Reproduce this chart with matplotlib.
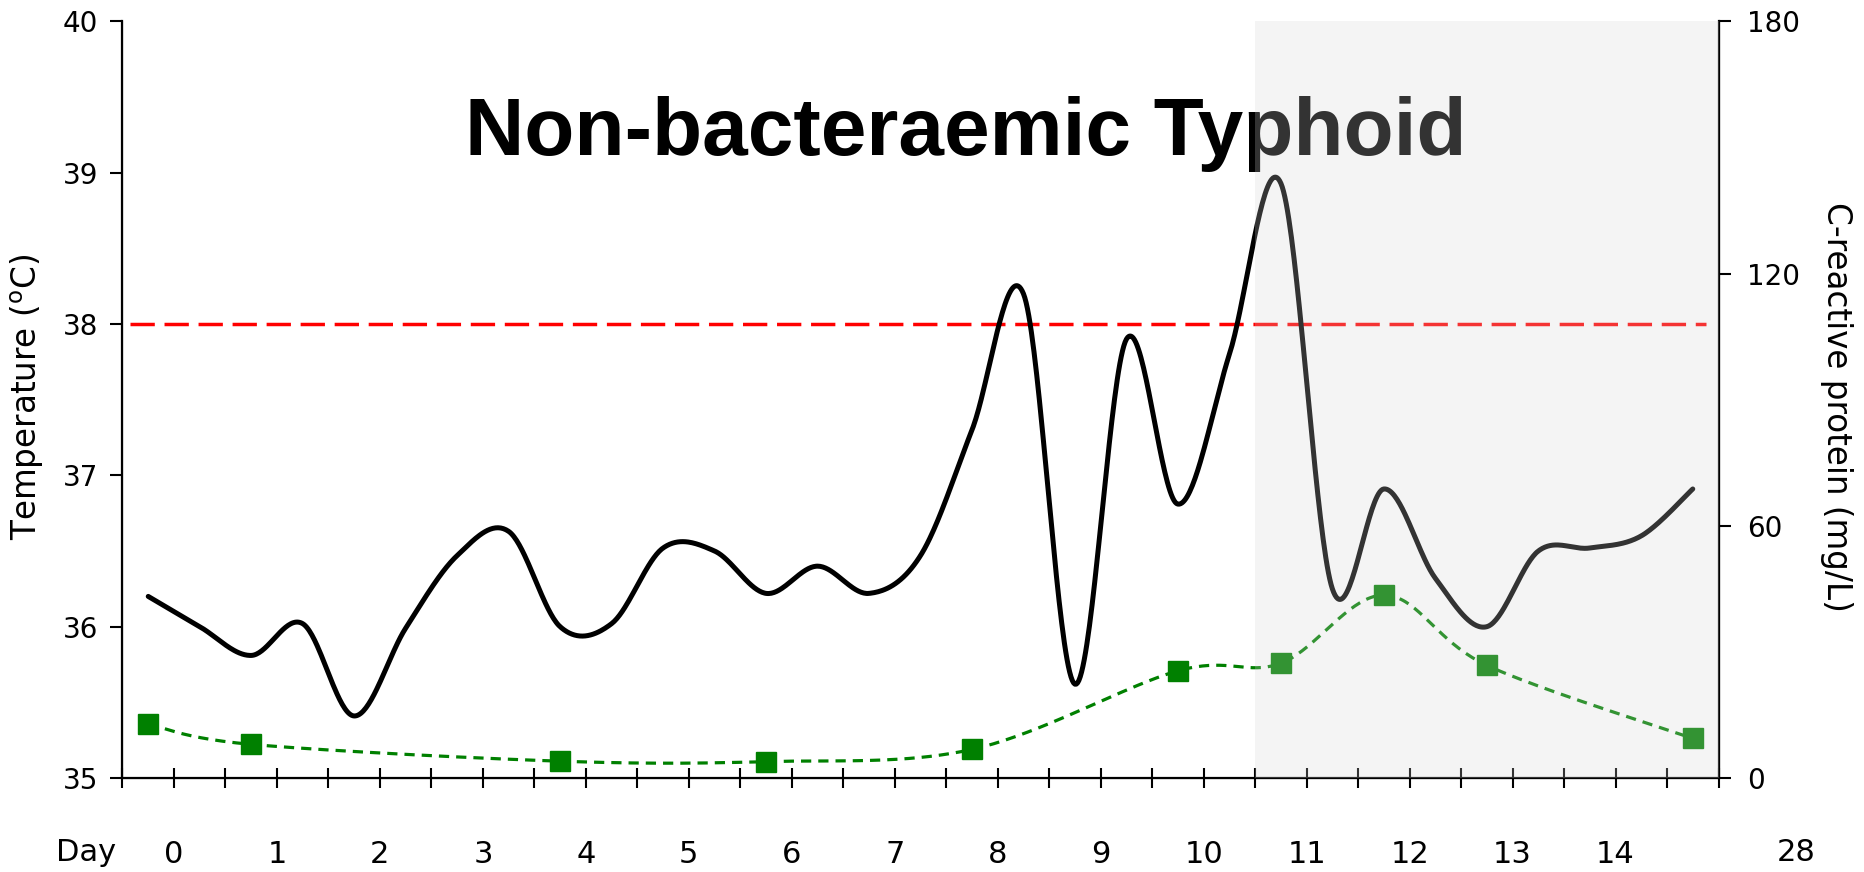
import numpy as np
import matplotlib
matplotlib.use("Agg")
import matplotlib.pyplot as plt
from matplotlib.patches import Rectangle

# half-day slots on the x axis (tick units), temperature taken twice a day
temp_slot = np.arange(31) + 0.5
temperature = [36.2, 36.0, 35.81, 36.02, 35.41, 35.99, 36.47, 36.63, 36.0, 36.02,
               36.52, 36.5, 36.22, 36.4, 36.22, 36.47, 37.3, 38.2, 35.62, 37.9,
               36.81, 37.8, 38.93, 36.25, 36.91, 36.32, 36.0, 36.5, 36.52, 36.6,
               36.91]

crp_slot = [0.5, 2.5, 8.5, 12.5, 16.5, 20.5, 22.5, 24.5, 26.5, 30.5]
crp = [12.8, 8.0, 4.0, 3.9, 6.8, 25.5, 27.3, 43.5, 26.8, 9.4]

fever_line = 38.0
day_labels = [str(d) for d in range(15)]
shade_start = 22.0


def smooth(x, y, n=40):
    # excel style smoothed line (catmull-rom as bezier)
    x = np.asarray(x, float)
    y = np.asarray(y, float)
    px = np.concatenate([[x[0]], x, [x[-1]]])
    py = np.concatenate([[y[0]], y, [y[-1]]])
    t = np.linspace(0, 1, n)[:, None]
    pts = []
    for i in range(len(x) - 1):
        p0 = np.array([px[i], py[i]])
        p1 = np.array([px[i + 1], py[i + 1]])
        p2 = np.array([px[i + 2], py[i + 2]])
        p3 = np.array([px[i + 3], py[i + 3]])
        c1 = p1 + (p2 - p0) / 6
        c2 = p2 - (p3 - p1) / 6
        b = ((1 - t) ** 3) * p1 + 3 * ((1 - t) ** 2) * t * c1 + 3 * (1 - t) * t ** 2 * c2 + t ** 3 * p2
        pts.append(b if i == 0 else b[1:])
    pts = np.vstack(pts)
    return pts[:, 0], pts[:, 1]


plt.rcParams['font.family'] = ['DejaVu Sans']

fig = plt.figure(figsize=(18.65, 8.72), dpi=100)
ax = fig.add_axes([0.06568, 0.1078, 0.85577, 0.86766])
ax.set_xlim(0, 31)
ax.set_ylim(35, 40)

sx, sy = smooth(temp_slot, temperature)
ax.plot(sx, sy, color='black', lw=3.6, solid_capstyle='round', zorder=3)
ax.hlines(fever_line, 0.15, 30.75, colors='#ff0000', lw=2.5,
          linestyles=(0, (7, 2.8)), zorder=2)

ax.text(16.37, 39.12, 'Non-bacteraemic Typhoid', ha='center', va='baseline',
        fontsize=59, fontweight='bold', family=['Liberation Sans', 'DejaVu Sans'])

ax.set_yticks([35, 36, 37, 38, 39, 40])
ax.tick_params(axis='y', direction='out', length=8.5, width=1.5, labelsize=20, pad=9)
ax.set_xticks(range(32))
xl = [''] * 32
for i, lab in enumerate(day_labels):
    xl[2 * i + 1] = lab
ax.set_xticklabels(xl)
ax.tick_params(axis='x', direction='inout', length=15, width=1.5, labelsize=22, pad=37)

for s in ['top']:
    ax.spines[s].set_visible(False)
for s in ['left', 'bottom']:
    ax.spines[s].set_linewidth(1.6)

ax2 = ax.twinx()
ax2.set_ylim(0, 180)
ax2.set_yticks([0, 60, 120, 180])
ax2.tick_params(axis='y', direction='out', length=8.5, width=1.5, labelsize=20, pad=12)
ax2.spines['top'].set_visible(False)
ax2.spines['right'].set_linewidth(1.6)

cx, cy = smooth(crp_slot, crp)
ax2.plot(cx, cy, color='#008000', lw=2.3, linestyle=(0, (3.2, 2.2)), zorder=3)
ax2.plot(crp_slot, crp, linestyle='none', marker='s', ms=15, color='#008000', zorder=4)

# shaded period drawn over everything
ax2.add_patch(Rectangle((shade_start, 0), 31 - shade_start, 180, facecolor=(0.824, 0.824, 0.824),
                        alpha=0.243, edgecolor='none', zorder=10))

yl = ax.get_xaxis_transform()
ax.text(-0.71, -0.099, 'Day', transform=yl, ha='center', va='center', fontsize=22, clip_on=False)
ax.text(32.5, -0.099, '28', transform=yl, ha='center', va='center', fontsize=22, clip_on=False)

fig.text(0.0145, 0.5447, 'Temperature ($^{\\mathrm{o}}$C)', rotation=90,
         ha='center', va='center', fontsize=23.5)
fig.text(0.9845, 0.5333, 'C-reactive protein (mg/L)', rotation=270,
         ha='center', va='center', fontsize=23.5)

fig.savefig('out.png', dpi=100)
